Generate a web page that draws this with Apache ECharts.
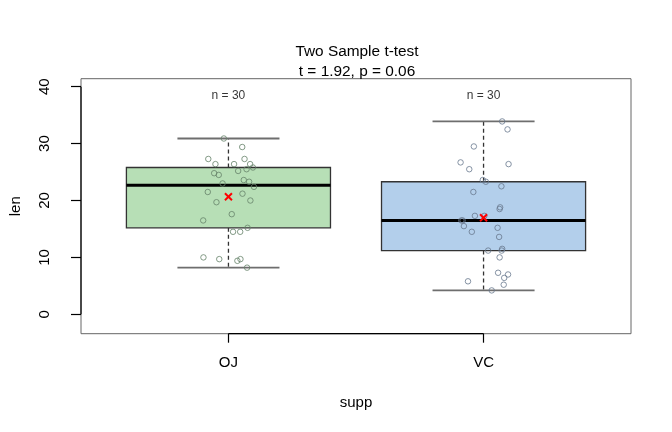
<!DOCTYPE html>
<html><head><meta charset="utf-8">
<script src="https://cdn.jsdelivr.net/npm/echarts@6/dist/echarts.min.js"></script>
<style>html,body{margin:0;padding:0;background:#fff}#c{width:672px;height:432px}</style>
</head><body><div id="c"></div>
<script>
// ---- data ----
const categories = ['OJ', 'VC'];
const ojLen =    [30.9, 29.4, 27.3, 27.3, 26.4, 26.4, 26.4, 25.8, 25.2, 25.5, 24.8, 24.5, 23.6, 23.3, 23.0, 22.4, 21.5, 21.2, 19.7, 20.0, 17.6, 16.5, 15.2, 14.5, 14.5, 10.0, 9.7, 9.4, 9.7, 8.2];
const ojJitter = [-0.018, 0.054, -0.079, 0.063, -0.051, 0.022, 0.085, 0.096, 0.038, 0.071, -0.056, -0.038, 0.060, 0.081, -0.023, 0.100, -0.081, 0.055, -0.047, 0.086, 0.013, -0.099, 0.075, 0.018, 0.046, -0.098, -0.036, 0.035, 0.047, 0.073];
const vcLen =    [33.9, 32.5, 29.5, 26.7, 26.4, 25.5, 23.6, 23.3, 22.5, 21.5, 18.8, 18.5, 17.3, 17.3, 16.5, 16.5, 15.5, 15.2, 14.5, 13.6, 11.2, 11.5, 11.2, 10.0, 7.3, 7.0, 6.4, 5.8, 5.2, 4.2];
const vcJitter = [0.073, 0.094, -0.038, -0.090, 0.098, -0.056, -0.003, 0.009, 0.070, -0.040, 0.065, 0.063, -0.034, 0.003, -0.087, -0.082, -0.077, 0.055, -0.046, 0.061, 0.018, 0.073, 0.071, 0.063, 0.057, 0.096, 0.081, -0.061, 0.079, 0.032];
// five-number summaries: min, lower hinge, median, upper hinge, max
const ojBox = [8.2, 15.2, 22.7, 25.8, 30.9];
const vcBox = [4.2, 11.2, 16.5, 23.3, 33.9];
const means = [20.66, 16.96];
const nLabels = ['n = 30', 'n = 30'];
const yTicks = [0, 10, 20, 30, 40];
const titleLines = ['Two Sample t-test', 't = 1.92, p = 0.06'];
const xName = 'supp';
const yName = 'len';

// ---- styling ----
const FONT = '"Liberation Sans", Arial, Helvetica, sans-serif';
const fills = ['#b7dfb6', '#b3cfeb'];
const pointColors = ['#66836a', '#69798f'];
const X_MIN = 0.422, X_MAX = 2.578, Y_MIN = -3.41, Y_MAX = 41.41;
const N_LABEL_Y = 38.4;

const boxes = [ojBox, vcBox];
const boxData = boxes.map((b, i) => [i + 1].concat(b));

function renderBox(params, api) {
  const x = api.value(0);
  const lo = api.value(1), q1 = api.value(2), med = api.value(3), q3 = api.value(4), hi = api.value(5);
  const hw = 0.4, cw = 0.2;
  const tl = api.coord([x - hw, q3]), br = api.coord([x + hw, q1]);
  const cHi = api.coord([x, hi]), cLo = api.coord([x, lo]);
  const cQ3 = api.coord([x, q3]), cQ1 = api.coord([x, q1]);
  const mL = api.coord([x - hw, med]), mR = api.coord([x + hw, med]);
  const capHiL = api.coord([x - cw, hi]), capHiR = api.coord([x + cw, hi]);
  const capLoL = api.coord([x - cw, lo]), capLoR = api.coord([x + cw, lo]);
  const dash = { stroke: '#333', lineWidth: 1.3, lineDash: [4, 3] };
  const cap = { stroke: '#6e6e6e', lineWidth: 1.8 };
  return {
    type: 'group',
    children: [
      { type: 'line', shape: { x1: cQ3[0], y1: cQ3[1], x2: cHi[0], y2: cHi[1] }, style: dash },
      { type: 'line', shape: { x1: cQ1[0], y1: cQ1[1], x2: cLo[0], y2: cLo[1] }, style: dash },
      { type: 'line', shape: { x1: capHiL[0], y1: capHiL[1], x2: capHiR[0], y2: capHiR[1] }, style: cap },
      { type: 'line', shape: { x1: capLoL[0], y1: capLoL[1], x2: capLoR[0], y2: capLoR[1] }, style: cap },
      { type: 'rect', shape: { x: tl[0], y: tl[1], width: br[0] - tl[0], height: br[1] - tl[1] },
        style: { fill: fills[params.dataIndex], stroke: '#333', lineWidth: 1.3 } },
      { type: 'line', shape: { x1: mL[0], y1: mL[1], x2: mR[0], y2: mR[1] }, style: { stroke: '#000', lineWidth: 3 } }
    ]
  };
}

function renderMean(params, api) {
  const p = api.coord([api.value(0), api.value(1)]);
  const s = 3.5;
  const st = { stroke: '#ff0000', lineWidth: 2 };
  return { type: 'group', children: [
    { type: 'line', shape: { x1: p[0] - s, y1: p[1] - s, x2: p[0] + s, y2: p[1] + s }, style: st },
    { type: 'line', shape: { x1: p[0] - s, y1: p[1] + s, x2: p[0] + s, y2: p[1] - s }, style: st }
  ]};
}

function renderAxisLines(params, api) {
  const a = api.coord([X_MIN, yTicks[0]]), b = api.coord([X_MIN, yTicks[yTicks.length - 1]]);
  const c = api.coord([1, Y_MIN]), d = api.coord([categories.length, Y_MIN]);
  const st = { stroke: '#000', lineWidth: 1.2 };
  return { type: 'group', children: [
    { type: 'line', shape: { x1: a[0], y1: a[1], x2: b[0], y2: b[1] }, style: st },
    { type: 'line', shape: { x1: c[0], y1: c[1], x2: d[0], y2: d[1] }, style: st }
  ]};
}

const chart = echarts.init(document.getElementById('c'), null, { renderer: 'canvas' });
chart.setOption({
  animation: false,
  backgroundColor: '#fff',
  textStyle: { fontFamily: FONT },
  title: {
    text: titleLines.join('\n'),
    left: 352, top: 37, textAlign: 'center',
    textStyle: { fontFamily: FONT, fontSize: 15.4, fontWeight: 'normal', color: '#000', lineHeight: 20 }
  },
  grid: { left: 78.7, right: 41, top: 78.7, bottom: 98.3, show: true, borderColor: '#666', borderWidth: 1, backgroundColor: 'transparent' },
  xAxis: {
    type: 'value', min: X_MIN, max: X_MAX,
    splitLine: { show: false },
    axisLine: { show: false, onZero: false },
    axisTick: { show: true, customValues: [1, 2], length: 9, lineStyle: { color: '#000', width: 1.2 } },
    axisLabel: { customValues: [1, 2], formatter: v => categories[Math.round(v) - 1], margin: 22, fontSize: 15, color: '#000', fontFamily: FONT },
    name: xName, nameLocation: 'middle', nameGap: 62,
    nameTextStyle: { fontSize: 15, color: '#000', fontFamily: FONT }
  },
  yAxis: {
    type: 'value', min: Y_MIN, max: Y_MAX,
    splitLine: { show: false },
    axisLine: { show: false, onZero: false },
    axisTick: { show: true, customValues: yTicks, length: 10, lineStyle: { color: '#000', width: 1.2 } },
    axisLabel: { customValues: yTicks, rotate: 90, margin: 36, fontSize: 15, color: '#000', fontFamily: FONT, align: 'center', verticalAlign: 'middle' },
    name: yName, nameLocation: 'middle', nameGap: 58, nameRotate: 90,
    nameTextStyle: { fontSize: 15, color: '#000', fontFamily: FONT }
  },
  series: [
    { type: 'custom', renderItem: renderAxisLines, data: [[0, 0]], silent: true, z: 1 },
    { type: 'custom', renderItem: renderBox, data: boxData, encode: { x: 0, y: [1, 2, 3, 4, 5] }, z: 2 },
    { type: 'scatter', symbol: 'circle', symbolSize: 5.5, z: 3,
      itemStyle: { color: 'rgba(0,0,0,0)', borderColor: pointColors[0], borderWidth: 1 },
      data: ojLen.map((v, i) => [1 + ojJitter[i], v]) },
    { type: 'scatter', symbol: 'circle', symbolSize: 5.5, z: 3,
      itemStyle: { color: 'rgba(0,0,0,0)', borderColor: pointColors[1], borderWidth: 1 },
      data: vcLen.map((v, i) => [2 + vcJitter[i], v]) },
    { type: 'custom', renderItem: renderMean, data: means.map((m, i) => [i + 1, m]), z: 4 },
    { type: 'scatter', symbolSize: 0, z: 4, silent: true,
      data: nLabels.map((t, i) => ({ value: [i + 1, N_LABEL_Y], name: t })),
      label: { show: true, position: 'inside', formatter: p => p.name, fontSize: 12, color: '#000', fontFamily: FONT } }
  ]
});
</script></body></html>
